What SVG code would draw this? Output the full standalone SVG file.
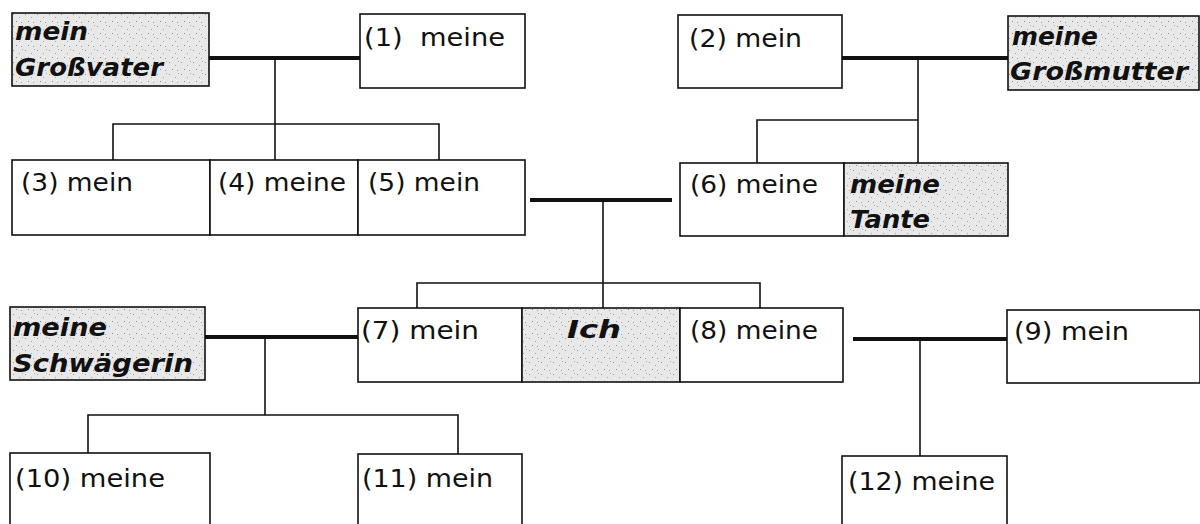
<svg xmlns="http://www.w3.org/2000/svg" width="1200" height="524" viewBox="0 0 1200 524">
<style>
.box{fill:#fff;stroke:#111;stroke-width:1.6}
.gray{fill:url(#speck);stroke:#111;stroke-width:1.6}
.t{font-family:"DejaVu Sans",Verdana,sans-serif;font-size:25px;fill:#111}
.b{font-family:"DejaVu Sans",Verdana,sans-serif;font-size:25px;font-weight:bold;font-style:italic;fill:#111}
.thick{stroke:#111;stroke-width:4;fill:none}
.thin{stroke:#111;stroke-width:1.6;fill:none}
</style>
<defs>
<pattern id="speck" width="12" height="12" patternUnits="userSpaceOnUse">
<rect width="12" height="12" fill="#e8e8e8"/>
<rect x="1" y="2" width="1" height="1" fill="#9a9a9a"/>
<rect x="7" y="5" width="1" height="1" fill="#a8a8a8"/>
<rect x="4" y="9" width="1" height="1" fill="#8c8c8c"/>
<rect x="10" y="1" width="1" height="1" fill="#b4b4b4"/>
<rect x="9" y="10" width="1" height="1" fill="#a0a0a0"/>
<rect x="3" y="6" width="1" height="1" fill="#f8f8f8"/>
<rect x="8" y="8" width="1" height="1" fill="#fafafa"/>
</pattern>
</defs>
<rect width="1200" height="524" fill="#fff"/>

<g id="connectors">
<line class="thick" x1="205" y1="58" x2="367" y2="58"/>
<line class="thin" x1="275" y1="58" x2="275" y2="173"/>
<polyline class="thin" points="113,167 113,124 439,124 439,169"/>
<line class="thick" x1="842" y1="58" x2="1013" y2="58"/>
<line class="thin" x1="918" y1="58" x2="918" y2="163"/>
<polyline class="thin" points="757,164 757,120 918,120"/>
<line class="thick" x1="530" y1="200" x2="672" y2="200"/>
<line class="thin" x1="603" y1="200" x2="603" y2="308"/>
<polyline class="thin" points="417,310 417,283 760,283 760,308"/>
<line class="thick" x1="205" y1="337" x2="363" y2="337"/>
<line class="thin" x1="265" y1="337" x2="265" y2="415"/>
<polyline class="thin" points="88,465 88,415 458,415 458,455"/>
<line class="thick" x1="853" y1="339" x2="1012" y2="339"/>
<line class="thin" x1="920" y1="339" x2="920" y2="456"/>
</g>

<g id="grossvater"><rect class="gray" x="12" y="13" width="197" height="73"/><text class="b" x="15" y="40" textLength="73" lengthAdjust="spacingAndGlyphs">mein</text><text class="b" x="15" y="76" textLength="148" lengthAdjust="spacingAndGlyphs">Großvater</text></g>
<g id="n1"><rect class="box" x="360" y="14" width="165" height="74"/><text class="t" x="364" y="46" xml:space="preserve" textLength="141" lengthAdjust="spacingAndGlyphs">(1)  meine</text></g>
<g id="n2"><rect class="box" x="678" y="15" width="164" height="73"/><text class="t" x="689" y="47" textLength="113" lengthAdjust="spacingAndGlyphs">(2) mein</text></g>
<g id="grossmutter"><rect class="gray" x="1008" y="16" width="191" height="74"/><text class="b" x="1012" y="45" textLength="86" lengthAdjust="spacingAndGlyphs">meine</text><text class="b" x="1010" y="80" textLength="178" lengthAdjust="spacingAndGlyphs">Großmutter</text></g>

<g id="n3"><rect class="box" x="12" y="160" width="198" height="75"/><text class="t" x="21" y="191" textLength="112" lengthAdjust="spacingAndGlyphs">(3) mein</text></g>
<g id="n4"><rect class="box" x="210" y="160" width="148" height="75"/><text class="t" x="218" y="191" textLength="128" lengthAdjust="spacingAndGlyphs">(4) meine</text></g>
<g id="n5"><rect class="box" x="358" y="160" width="167" height="75"/><text class="t" x="368" y="191" textLength="112" lengthAdjust="spacingAndGlyphs">(5) mein</text></g>
<g id="n6"><rect class="box" x="680" y="163" width="164" height="73"/><text class="t" x="690" y="193" textLength="128" lengthAdjust="spacingAndGlyphs">(6) meine</text></g>
<g id="tante"><rect class="gray" x="844" y="163" width="164" height="73"/><text class="b" x="850" y="193" textLength="90" lengthAdjust="spacingAndGlyphs">meine</text><text class="b" x="850" y="228" textLength="80" lengthAdjust="spacingAndGlyphs">Tante</text></g>

<g id="schwaegerin"><rect class="gray" x="10" y="307" width="195" height="73"/><text class="b" x="13" y="336" textLength="94" lengthAdjust="spacingAndGlyphs">meine</text><text class="b" x="13" y="372" textLength="180" lengthAdjust="spacingAndGlyphs">Schwägerin</text></g>
<g id="n7"><rect class="box" x="358" y="308" width="164" height="74"/><text class="t" x="361" y="339" textLength="118" lengthAdjust="spacingAndGlyphs">(7) mein</text></g>
<g id="ich"><rect class="gray" x="522" y="308" width="158" height="74"/><text class="b" x="567" y="338" textLength="54" lengthAdjust="spacingAndGlyphs">Ich</text></g>
<g id="n8"><rect class="box" x="680" y="308" width="163" height="74"/><text class="t" x="690" y="339" textLength="128" lengthAdjust="spacingAndGlyphs">(8) meine</text></g>
<g id="n9"><rect class="box" x="1007" y="310" width="193" height="73"/><text class="t" x="1014" y="340" textLength="115" lengthAdjust="spacingAndGlyphs">(9) mein</text></g>

<g id="n10"><rect class="box" x="10" y="453" width="200" height="80"/><text class="t" x="15" y="487" textLength="150" lengthAdjust="spacingAndGlyphs">(10) meine</text></g>
<g id="n11"><rect class="box" x="358" y="454" width="164" height="80"/><text class="t" x="362" y="487" textLength="131" lengthAdjust="spacingAndGlyphs">(11) mein</text></g>
<g id="n12"><rect class="box" x="842" y="456" width="165" height="80"/><text class="t" x="848" y="490" textLength="147" lengthAdjust="spacingAndGlyphs">(12) meine</text></g>
</svg>
